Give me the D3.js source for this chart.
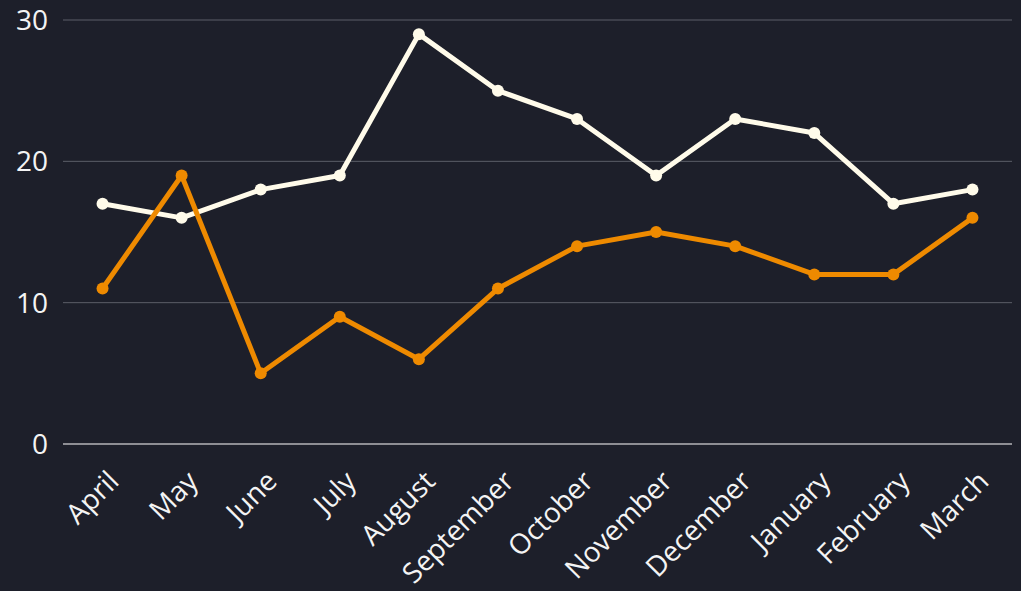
<!DOCTYPE html>
<html>
<head>
<meta charset="utf-8">
<script src="https://cdn.jsdelivr.net/npm/d3@7"></script>
<style>
  html, body { margin: 0; padding: 0; background: #1d1f2a; }
  svg { display: block; font-family: "Open Sans", sans-serif; }
</style>
</head>
<body>
<svg id="chart" width="1021" height="591"></svg>
<script>
var months = ["April", "May", "June", "July", "August", "September", "October",
              "November", "December", "January", "February", "March"];
var lightSeries = [17, 16, 18, 19, 29, 25, 23, 19, 23, 22, 17, 18];
var orangeSeries = [11, 19, 5, 9, 6, 11, 14, 15, 14, 12, 12, 16];
var yTicks = [0, 10, 20, 30];

var svg = d3.select("#chart"),
    plotLeft = 63, plotRight = 1012, plotTop = 20, plotBottom = 444;

var x = d3.scalePoint().domain(months).range([plotLeft, plotRight]).padding(0.5),
    y = d3.scaleLinear().domain([0, 30]).range([plotBottom, plotTop]);

// grid + y labels
var grid = svg.append("g");
grid.selectAll("line")
  .data(yTicks)
  .enter().append("line")
    .attr("x1", plotLeft).attr("x2", plotRight)
    .attr("y1", function(d) { return y(d); })
    .attr("y2", function(d) { return y(d); })
    .attr("stroke", function(d) { return d === 0 ? "#b4b4b8" : "#5c5e68"; })
    .attr("stroke-width", function(d) { return d === 0 ? 1.5 : 1; });

grid.selectAll("text")
  .data(yTicks)
  .enter().append("text")
    .attr("x", 48)
    .attr("y", function(d) { return y(d); })
    .attr("dy", "0.36em")
    .attr("text-anchor", "end")
    .attr("fill", "#f4f4f4")
    .style("font-size", "28px")
    .text(function(d) { return d; });

// x labels, rotated
svg.append("g").selectAll("text")
  .data(months)
  .enter().append("text")
    .attr("transform", function(d) { return "translate(" + (x(d) + 18) + ",483) rotate(-45)"; })
    .attr("text-anchor", "end")
    .attr("fill", "#f4f4f4")
    .style("font-size", "28px")
    .text(function(d) { return d; });

var series = [
  { values: lightSeries, color: "#fffbea" },
  { values: orangeSeries, color: "#ee8a00" }
];

var line = d3.line()
  .x(function(d, i) { return x(months[i]); })
  .y(function(d) { return y(d); });

series.forEach(function(s) {
  var g = svg.append("g");
  g.append("path")
    .attr("d", line(s.values))
    .attr("fill", "none")
    .attr("stroke", s.color)
    .attr("stroke-width", 5)
    .attr("stroke-linejoin", "round");
  g.selectAll("circle")
    .data(s.values)
    .enter().append("circle")
      .attr("cx", function(d, i) { return x(months[i]); })
      .attr("cy", function(d) { return y(d); })
      .attr("r", 6)
      .attr("fill", s.color);
});
</script>
</body>
</html>
